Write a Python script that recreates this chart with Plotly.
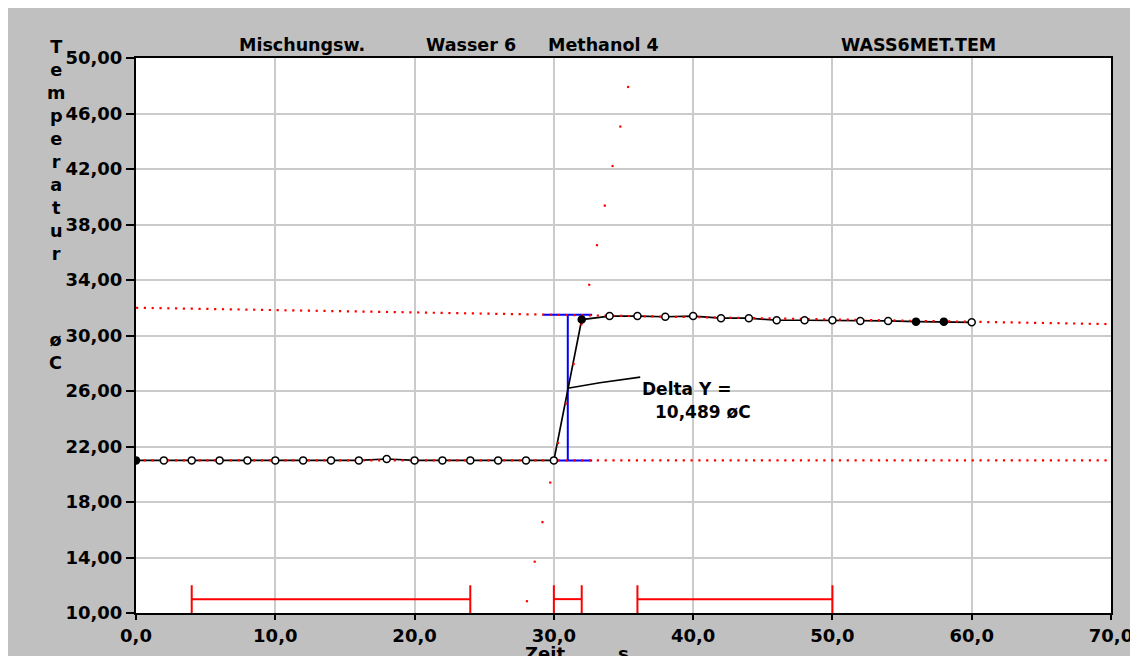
import plotly.graph_objects as go

# ---------------- data ----------------
time_s = [0, 2, 4, 6, 8, 10, 12, 14, 16, 18, 20, 22, 24, 26, 28,
          30, 32, 34, 36, 38, 40, 42, 44, 46, 48, 50, 52, 54, 56, 58, 60]
temp_c = [21.0, 21.0, 21.0, 21.0, 21.0, 21.0, 21.0, 21.0, 21.0, 21.1, 21.0, 21.0, 21.0, 21.0, 21.0,
          21.0, 31.15, 31.4, 31.4, 31.35, 31.4, 31.25, 31.25, 31.1, 31.1, 31.1, 31.05, 31.05, 31.0, 31.0, 30.95]
filled_markers = [0, 16, 28, 29]  # indices drawn as filled dots

# regression / extrapolation lines (red dotted)
pre_fit_x = [0, 70]
pre_fit_y = [21.0, 21.0]
post_fit_x = [0, 70]
post_fit_y = [32.0, 30.82]
jump_fit_x = [28.05, 35.35]
jump_fit_y = [10.77, 48.0]

# evaluation windows (red bars at the bottom)
win_start = [4, 30, 36]
win_end = [24, 32, 50]
win_level = 11.0
win_cap_low = 10.0
win_cap_high = 12.0

# delta Y marker
delta_x = 31.0
delta_low = 21.0
delta_y = 10.489
cap_left = [29.25, 30.0]
cap_right = [32.75, 32.75]

leader_x = [31.0, 33.3, 36.2]
leader_y = [26.2, 26.6, 27.0]

title_texts = ["Mischungsw.", "Wasser 6", "Methanol 4", "WASS6MET.TEM"]
y_title = "Temperatur"
y_unit = "øC"
x_title = "Zeit"
x_unit = "s"

# ---------------- figure ----------------
FONT = "DejaVu Sans"
fig = go.Figure()

# blue I-beam (delta marker)
delta_high = delta_low + delta_y
bx = [cap_left[0], cap_right[0], None, cap_left[1], cap_right[1], None, delta_x, delta_x]
by = [delta_high, delta_high, None, delta_low, delta_low, None, delta_low, delta_high]
fig.add_trace(go.Scatter(x=bx, y=by, mode="lines",
                         line=dict(color="#0000ff", width=2), hoverinfo="skip"))

# measured curve (line)
fig.add_trace(go.Scatter(x=time_s, y=temp_c, mode="lines",
                         line=dict(color="black", width=1.7), hoverinfo="skip"))

# red dotted extrapolation lines
fig.add_trace(go.Scatter(x=pre_fit_x, y=pre_fit_y, mode="lines",
                         line=dict(color="#ff0000", width=2.2, dash="2.2px,5.61px"), hoverinfo="skip"))
fig.add_trace(go.Scatter(x=post_fit_x, y=post_fit_y, mode="lines",
                         line=dict(color="#ff0000", width=2.2, dash="2.2px,5.61px"), hoverinfo="skip"))
fig.add_trace(go.Scatter(x=jump_fit_x, y=jump_fit_y, mode="lines",
                         line=dict(color="#ff0000", width=2.2, dash="2.2px,38.12px"), hoverinfo="skip"))

# measured curve markers
fills = ["black" if i in filled_markers else "white" for i in range(len(time_s))]
fig.add_trace(go.Scatter(x=time_s, y=temp_c, mode="markers",
                         marker=dict(symbol="circle", size=7, color=fills,
                                     line=dict(color="black", width=1.5)),
                         hoverinfo="skip"))

# evaluation windows
wx, wy = [], []
for s, e in zip(win_start, win_end):
    wx += [s, e, None, s, s, None, e, e, None]
    wy += [win_level, win_level, None, win_cap_low, win_cap_high, None, win_cap_low, win_cap_high, None]
fig.add_trace(go.Scatter(x=wx, y=wy, mode="lines",
                         line=dict(color="#ff0000", width=2), hoverinfo="skip"))

# annotation leader
fig.add_trace(go.Scatter(x=leader_x, y=leader_y, mode="lines",
                         line=dict(color="black", width=1.6), hoverinfo="skip"))

bold = dict(family=FONT, size=17, color="black", weight="bold")

annotations = []
# Delta text
annotations.append(dict(x=leader_x[-1], y=26.14, xref="x", yref="y", text="Delta Y =",
                        showarrow=False, xanchor="left", yanchor="middle", font=bold))
annotations.append(dict(x=37.12, y=24.49, xref="x", yref="y",
                        text=f"{delta_y:.3f}".replace(".", ",") + " " + y_unit,
                        showarrow=False, xanchor="left", yanchor="middle", font=bold))
# top titles
title_x = [0.1703, 0.3441, 0.479, 0.8026]
for t, xp in zip(title_texts, title_x):
    annotations.append(dict(x=xp, y=1.0234, xref="paper", yref="paper", text=t,
                            showarrow=False, xanchor="center", yanchor="middle",
                            font=dict(family=FONT, size=17.5, color="black", weight="bold")))
# vertical y title
annotations.append(dict(x=-0.0821, y=0.834, xref="paper", yref="paper",
                        text="<br>".join(list(y_title)), showarrow=False,
                        xanchor="center", yanchor="middle",
                        font=dict(family=FONT, size=17.7, color="black", weight="bold")))
annotations.append(dict(x=-0.0821, y=0.471, xref="paper", yref="paper",
                        text="<br>".join(list(y_unit)), showarrow=False,
                        xanchor="center", yanchor="middle",
                        font=dict(family=FONT, size=17.7, color="black", weight="bold")))
# x title
annotations.append(dict(x=0.4195, y=-0.0505, xref="paper", yref="paper", text=x_title,
                        showarrow=False, xanchor="center", yanchor="top",
                        font=dict(family=FONT, size=18, color="black", weight="bold")))
annotations.append(dict(x=0.5005, y=-0.0505, xref="paper", yref="paper", text=x_unit,
                        showarrow=False, xanchor="center", yanchor="top",
                        font=dict(family=FONT, size=18, color="black", weight="bold")))

tickfont = dict(family=FONT, size=18, color="black", weight="bold")
fig.update_layout(
    width=1138, height=656,
    margin=dict(l=128, r=35, t=50, b=51),
    paper_bgcolor="#c0c0c0",
    plot_bgcolor="white",
    showlegend=False,
    hovermode=False,
    separators=",.",
    annotations=annotations,
    xaxis=dict(range=[0, 70], dtick=10, tick0=0, tickformat=".1f",
               showgrid=True, gridcolor="#cbcbcb", gridwidth=2,
               showline=True, linecolor="black", linewidth=2, mirror=True,
               ticks="outside", ticklen=5, tickwidth=1.5, tickcolor="black",
               tickfont=tickfont, zeroline=False, fixedrange=True),
    yaxis=dict(range=[10, 50], dtick=4, tick0=10, tickformat=".2f",
               showgrid=True, gridcolor="#cbcbcb", gridwidth=2,
               showline=True, linecolor="black", linewidth=2, mirror=True,
               ticks="outside", ticklen=8, tickwidth=1.5, tickcolor="black",
               tickfont=tickfont, zeroline=False, fixedrange=True),
)

fig.write_html("out.html", config={"displayModeBar": False})
